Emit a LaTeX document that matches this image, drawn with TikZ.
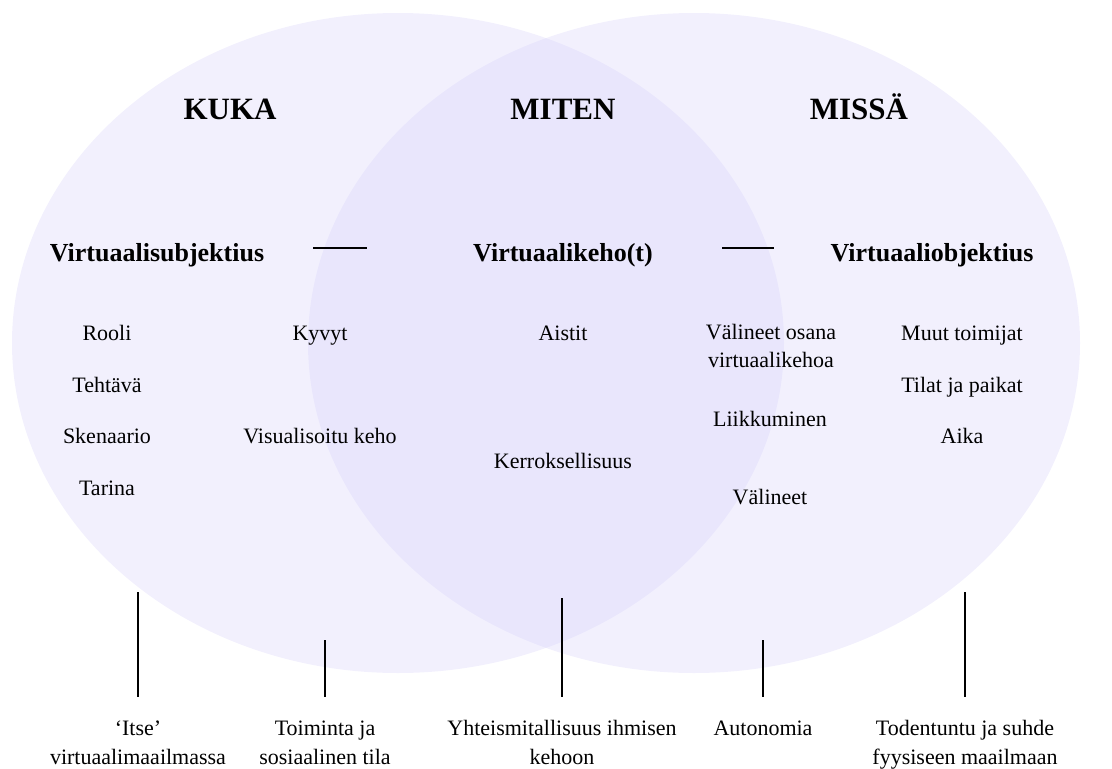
\documentclass[tikz,border=0pt]{standalone}
\usepackage{fontspec}
\setmainfont{Liberation Serif}

\definecolor{vennlilac}{RGB}{213,207,249}

\tikzset{
    venn/.style={
           fill=vennlilac,
           fill opacity=0.31,
           },
    cattitle/.style={font=\fontsize{31}{36}\selectfont\bfseries, anchor=base},
    subtitle/.style={font=\fontsize{26}{31}\selectfont\bfseries, anchor=base},
    entry/.style={font=\fontsize{22}{28}\selectfont, align=center, anchor=base},
    outcome/.style={font=\fontsize{22}{29}\selectfont, align=center,
           anchor=north, inner xsep=2pt, inner ysep=17.5pt},
    link/.style={draw=black, line width=1.3pt},
}

\begin{document}
\begin{tikzpicture}[x=1pt,y=-1pt]

       \useasboundingbox (0,0) rectangle (1112,769);

       % the two sets
       \fill[venn] (398,343) ellipse [x radius=386pt, y radius=330pt];
       \fill[venn] (694,343) ellipse [x radius=386pt, y radius=330pt];

       \node[cattitle] (KUKA)  at (230,119.5) {KUKA};
       \node[cattitle] (MITEN) at (563,119.5) {MITEN};
       \node[cattitle] (MISSA) at (859,119.5) {MISSÄ};

       \node[subtitle] (SUBJ) at (157,261) {Virtuaalisubjektius};
       \node[subtitle] (KEHO) at (563,261) {Virtuaalikeho(t)};
       \node[subtitle] (OBJ)  at (932,261) {Virtuaaliobjektius};

       \coordinate (D1A) at (313,248);
       \coordinate (D1B) at (367,248);
       \coordinate (D2A) at (722,248);
       \coordinate (D2B) at (774,248);
       \draw[link] (D1A) -- (D1B) ;
       \draw[link] (D2A) -- (D2B) ;

       % KUKA
       \node[entry] (ROOLI)     at (107,340) {Rooli};
       \node[entry] (TEHTAVA)   at (107,392) {Tehtävä};
       \node[entry] (SKENAARIO) at (107,443) {Skenaario};
       \node[entry] (TARINA)    at (107,495) {Tarina};
       \node[entry] (KYVYT)     at (320,340) {Kyvyt};
       \node[entry] (VISU)      at (320,443) {Visualisoitu keho};

       % MITEN
       \node[entry] (AISTIT)   at (563,340) {Aistit};
       \node[entry] (KERROS)   at (563,468) {Kerroksellisuus};
       \node[entry, anchor=center] (OSANA) at (771,346) {Välineet osana\\virtuaalikehoa};
       \node[entry] (LIIKKU)   at (770,426) {Liikkuminen};
       \node[entry] (VALINEET) at (770,504) {Välineet};

       % MISSÄ
       \node[entry] (MUUT)     at (962,340) {Muut toimijat};
       \node[entry] (TILAT)    at (962,392) {Tilat ja paikat};
       \node[entry] (AIKA)     at (962,443) {Aika};

       % outcomes
       \node[outcome] (ITSE)     at (138,697) {\strut‘Itse’\\virtuaalimaailmassa};
       \node[outcome] (TOIMINTA) at (325,697) {\strut Toiminta ja\\sosiaalinen tila};
       \node[outcome] (YHTEIS)   at (562,697) {\strut Yhteismitallisuus ihmisen\\kehoon};
       \node[outcome] (AUTO)     at (763,697) {\strut Autonomia};
       \node[outcome] (TODEN)    at (965,697) {\strut Todentuntu ja suhde\\fyysiseen maailmaan};

       \coordinate (L1) at (138,592);
       \coordinate (L2) at (325,640);
       \coordinate (L3) at (562,598);
       \coordinate (L4) at (763,640);
       \coordinate (L5) at (965,592);

       \draw[link] (L1) -- (ITSE.north) ;
       \draw[link] (L2) -- (TOIMINTA.north) ;
       \draw[link] (L3) -- (YHTEIS.north) ;
       \draw[link] (L4) -- (AUTO.north) ;
       \draw[link] (L5) -- (TODEN.north) ;

\end{tikzpicture}
\end{document}
